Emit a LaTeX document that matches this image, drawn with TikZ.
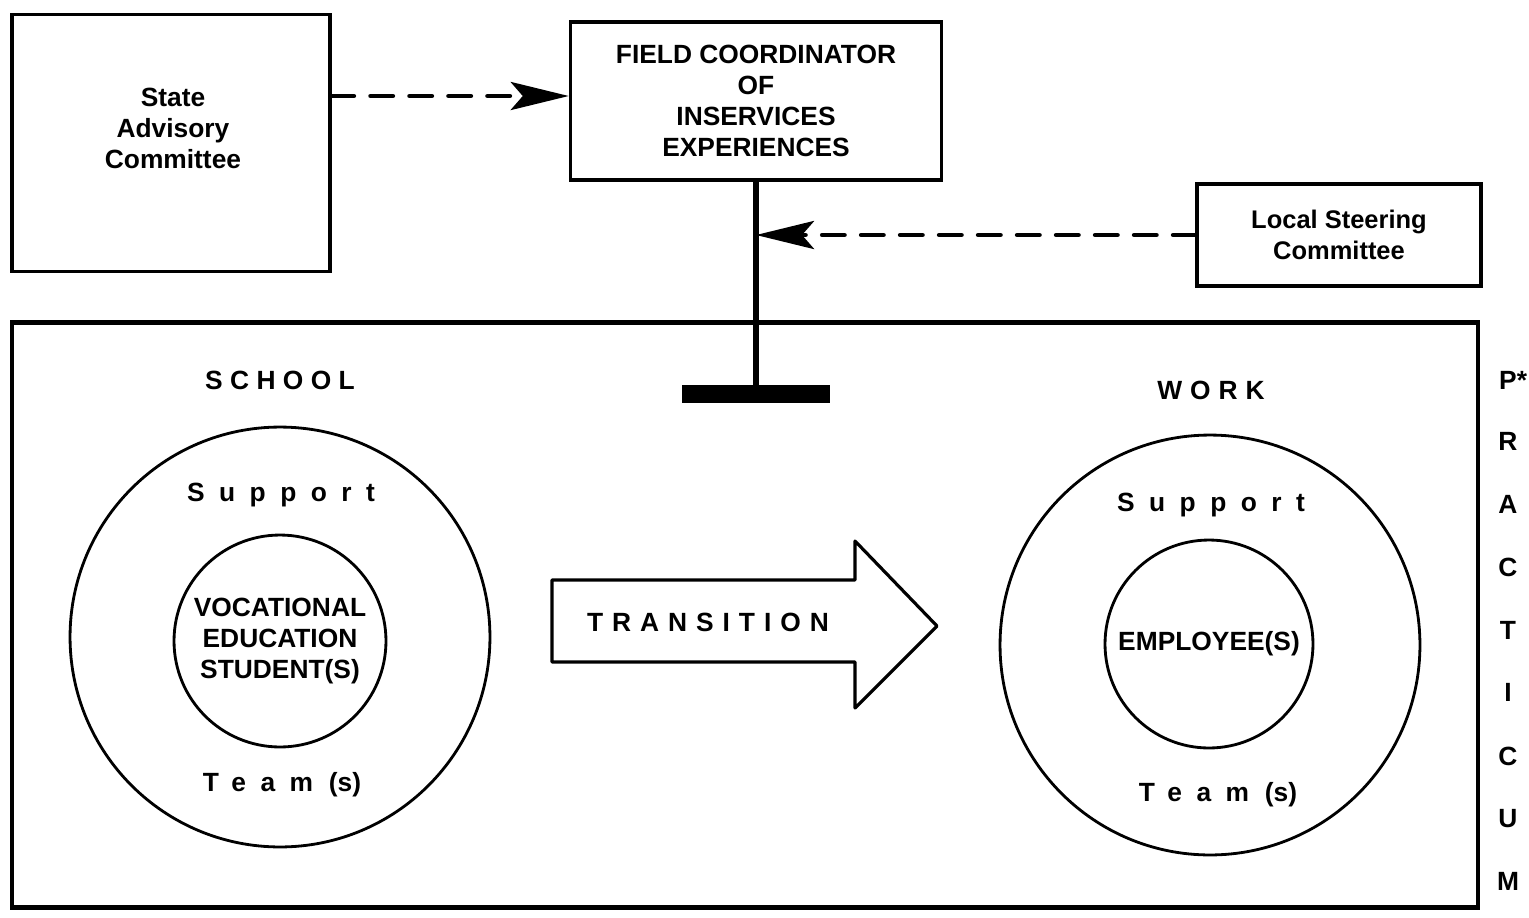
\documentclass[tikz,border=0pt]{standalone}
\usepackage{fontspec}
\setmainfont{Liberation Sans}
\usetikzlibrary{arrows.meta}
\tikzset{
  box/.style={draw, line width=2pt},
  ring/.style={draw, circle, line width=1.6pt, inner sep=0pt},
  link/.style={line width=2.8pt, dash pattern=on 0.44cm off 0.34cm, line cap=round,
    -{Stealth[length=1.16cm,width=0.56cm,inset=0.24cm]}},
  spaced/.style={font=\bfseries\fontsize{15}{17.6}\selectfont\addfontfeature{LetterSpace=#1}}
}
\begin{document}
\begin{tikzpicture}[x=0.02cm,y=-0.02cm,every node/.style={font=\bfseries\fontsize{15}{17.6}\selectfont,align=center}]
\useasboundingbox (0,0) rectangle (1529,917);
\node[box,minimum width=6.36cm,minimum height=5.14cm] (state) at (171,143) {};
\node (statetxt) at (173,128) {State\\Advisory\\Committee};
\node[box,minimum width=7.42cm,minimum height=3.16cm] (field) at (756,101) {FIELD COORDINATOR\\OF\\INSERVICES\\EXPERIENCES};
\node[box,minimum width=5.68cm,minimum height=2.04cm,font=\bfseries\fontsize{14.5}{17.6}\selectfont] (local) at (1339,235) {Local Steering\\Committee};
\node[box,line width=2.4pt,minimum width=29.32cm,minimum height=11.7cm] (frame) at (745,615) {};
\node[fill=black,minimum width=2.98cm,minimum height=0.36cm,inner sep=0pt] (bar) at (756,394) {};
\draw[line width=3pt] (field.south) -- (bar.north);
\draw[link] ([yshift=0.1cm]state.east |- field.west) -- ([yshift=0.1cm]field.west);
\draw[link] (local.west) -- (field.south |- local.west);
\node[spaced=28] (school) at (280,380) {SCHOOL};
\node[ring,minimum size=8.4cm] (schoolring) at (280,637) {};
\node[ring,minimum size=4.24cm] (student) at (280,641) {VOCATIONAL\\EDUCATION\\STUDENT(S)};
\node[spaced=55] (support1) at (281,495) {Support};
\node (team1) at (282,785) {{\addfontfeature{LetterSpace=55}Team}\hspace{0.6em}(s)};
\node[spaced=30] (work) at (1211,390) {WORK};
\node[ring,minimum size=8.4cm] (workring) at (1210,645) {};
\node[ring,minimum size=4.16cm] (employee) at (1209,644) {EMPLOYEE(S)};
\node[spaced=55] (support2) at (1211,505) {Support};
\node (team2) at (1218,795) {{\addfontfeature{LetterSpace=55}Team}\hspace{0.6em}(s)};
\draw[line width=1.8pt,line join=round] (552,580) -- (855,580) -- (855,541) -- (937,626) -- (855,708) -- (855,662) -- (552,662) -- cycle;
\node[spaced=34] (transition) at (708,622) {TRANSITION};
\foreach \ch/\y [count=\i] in {{P\rlap{*}}/380,R/441,A/504,C/567,T/630,I/692,C/756,U/819,M/881}
  \node (prac\i) at (1508,\y) {\ch};
\end{tikzpicture}
\end{document}
